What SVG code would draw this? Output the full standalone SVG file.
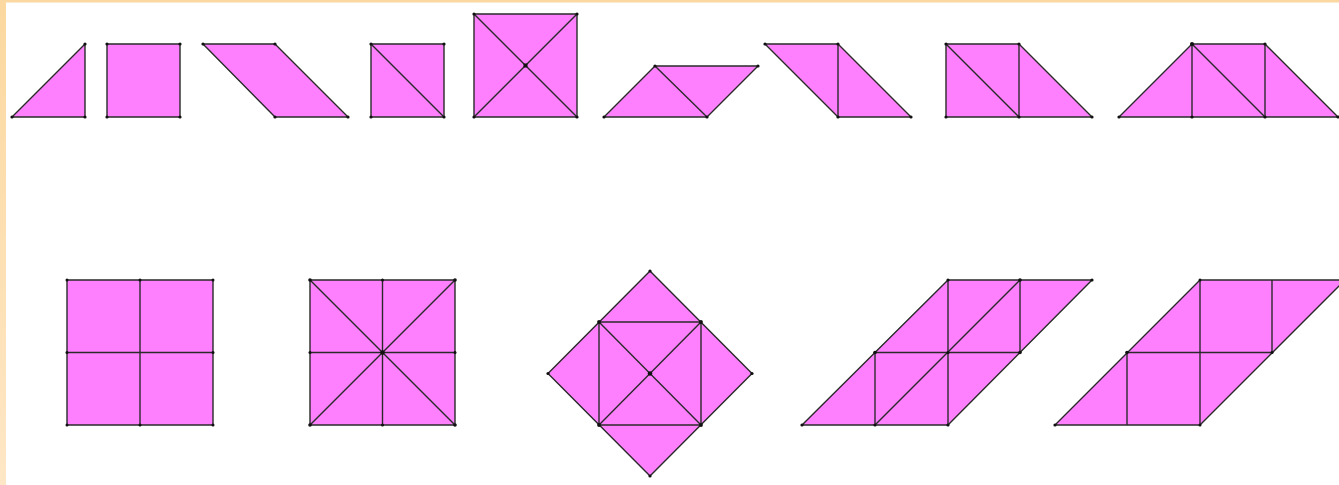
<svg xmlns="http://www.w3.org/2000/svg" width="1339" height="485" viewBox="0 0 1339 485">
<defs>
<linearGradient id="bg" x1="0" y1="0" x2="0" y2="1">
<stop offset="0" stop-color="#FBD89F"/>
<stop offset="1" stop-color="#FEE7C6"/>
</linearGradient>
<style>
.f{fill:#FF80FF;stroke:#2a2a2a;stroke-width:1.4;stroke-linejoin:round}
.l{stroke:#2a2a2a;stroke-width:1.4;fill:none}
.d{fill:#111}
</style>
</defs>
<rect x="0" y="0" width="1339" height="485" fill="#fff"/>
<rect x="0" y="0" width="1339" height="2.5" fill="#FBD89F"/>
<rect x="0" y="0" width="6" height="485" fill="url(#bg)"/>

<g id="s1">
<polygon class="f" points="12,117 85,44 85,117"/>
<g class="d"><circle cx="12" cy="117" r="1.6"/><circle cx="85" cy="44" r="1.6"/><circle cx="85" cy="117" r="1.6"/></g>
</g>
<g id="s2">
<polygon class="f" points="107,44 180,44 180,117 107,117"/>
<g class="d"><circle cx="107" cy="44" r="1.6"/><circle cx="180" cy="44" r="1.6"/><circle cx="180" cy="117" r="1.6"/><circle cx="107" cy="117" r="1.6"/></g>
</g>
<g id="s3">
<polygon class="f" points="203,44 275,44 348,117 275,117"/>
<g class="d"><circle cx="203" cy="44" r="1.6"/><circle cx="275" cy="44" r="1.6"/><circle cx="348" cy="117" r="1.6"/><circle cx="275" cy="117" r="1.6"/></g>
</g>
<g id="s4">
<polygon class="f" points="371,44 444,44 444,117 371,117"/>
<line class="l" x1="371" y1="44" x2="444" y2="117"/>
<g class="d"><circle cx="371" cy="44" r="1.6"/><circle cx="444" cy="44" r="1.6"/><circle cx="444" cy="117" r="1.6"/><circle cx="371" cy="117" r="1.6"/></g>
</g>
<g id="s5">
<polygon class="f" points="474,14 577,14 577,117 474,117"/>
<line class="l" x1="474" y1="14" x2="577" y2="117"/>
<line class="l" x1="577" y1="14" x2="474" y2="117"/>
<g class="d"><circle cx="474" cy="14" r="1.6"/><circle cx="577" cy="14" r="1.6"/><circle cx="577" cy="117" r="1.6"/><circle cx="474" cy="117" r="1.6"/><rect x="523.5" y="63.5" width="4" height="4"/></g>
</g>
<g id="s6">
<polygon class="f" points="604,117 655,66 758,66 707,117"/>
<line class="l" x1="655" y1="66" x2="707" y2="117"/>
<g class="d"><circle cx="604" cy="117" r="1.6"/><circle cx="655" cy="66" r="1.6"/><circle cx="758" cy="66" r="1.6"/><circle cx="707" cy="117" r="1.6"/></g>
</g>
<g id="s7">
<polygon class="f" points="765,44 838,44 911,117 838,117"/>
<line class="l" x1="838" y1="44" x2="838" y2="117"/>
<g class="d"><circle cx="765" cy="44" r="1.6"/><circle cx="838" cy="44" r="1.6"/><circle cx="911" cy="117" r="1.6"/><circle cx="838" cy="117" r="1.6"/></g>
</g>
<g id="s8">
<polygon class="f" points="946,44 1019,44 1092,117 946,117"/>
<line class="l" x1="946" y1="44" x2="1019" y2="117"/>
<line class="l" x1="1019" y1="44" x2="1019" y2="117"/>
<g class="d"><circle cx="946" cy="44" r="1.6"/><circle cx="1019" cy="44" r="1.6"/><circle cx="1092" cy="117" r="1.6"/><circle cx="1019" cy="117" r="1.6"/><circle cx="946" cy="117" r="1.6"/></g>
</g>
<g id="s9">
<polygon class="f" points="1119,117 1192,44 1265,44 1338,117"/>
<line class="l" x1="1192" y1="44" x2="1192" y2="117"/>
<line class="l" x1="1265" y1="44" x2="1265" y2="117"/>
<line class="l" x1="1192" y1="44" x2="1265" y2="117"/>
<g class="d"><circle cx="1119" cy="117" r="1.6"/><circle cx="1192" cy="44" r="2"/><circle cx="1265" cy="44" r="1.6"/><circle cx="1338" cy="117" r="1.6"/><circle cx="1192" cy="117" r="1.6"/><circle cx="1265" cy="117" r="1.6"/></g>
</g>

<g id="s10">
<polygon class="f" points="67,280 213,280 213,425 67,425"/>
<line class="l" x1="140" y1="280" x2="140" y2="425"/>
<line class="l" x1="67" y1="352.5" x2="213" y2="352.5"/>
<g class="d"><circle cx="67" cy="280" r="1.5"/><circle cx="140" cy="280" r="1.5"/><circle cx="213" cy="280" r="1.5"/><circle cx="67" cy="352.5" r="1.5"/><circle cx="213" cy="352.5" r="1.5"/><circle cx="67" cy="425" r="1.5"/><circle cx="140" cy="425" r="1.5"/><circle cx="213" cy="425" r="1.5"/></g>
</g>
<g id="s11">
<polygon class="f" points="310,280 455,280 455,425 310,425"/>
<line class="l" x1="382.5" y1="280" x2="382.5" y2="425"/>
<line class="l" x1="310" y1="352.5" x2="455" y2="352.5"/>
<line class="l" x1="310" y1="280" x2="455" y2="425"/>
<line class="l" x1="455" y1="280" x2="310" y2="425"/>
<g class="d"><circle cx="310" cy="280" r="1.8"/><circle cx="382.5" cy="280" r="1.5"/><circle cx="455" cy="280" r="1.8"/><circle cx="310" cy="352.5" r="1.5"/><circle cx="455" cy="352.5" r="1.5"/><circle cx="310" cy="425" r="1.8"/><circle cx="382.5" cy="425" r="1.5"/><circle cx="455" cy="425" r="1.8"/><circle cx="382.5" cy="352.5" r="2.3"/></g>
</g>
<g id="s12">
<polygon class="f" points="650,271 752,373.5 650,476 548,373.5"/>
<polygon class="l" points="599,322 701,322 701,425 599,425"/>
<line class="l" x1="599" y1="322" x2="701" y2="425"/>
<line class="l" x1="701" y1="322" x2="599" y2="425"/>
<g class="d"><circle cx="650" cy="271" r="1.6"/><circle cx="752" cy="373.5" r="1.6"/><circle cx="650" cy="476" r="1.6"/><circle cx="548" cy="373.5" r="1.6"/><circle cx="599" cy="322" r="1.9"/><circle cx="701" cy="322" r="1.9"/><circle cx="701" cy="425" r="1.9"/><circle cx="599" cy="425" r="1.9"/><circle cx="650" cy="373.5" r="2.3"/></g>
</g>
<g id="s13">
<polygon class="f" points="802,425 948,280 1092,280 948,425"/>
<line class="l" x1="875" y1="352.5" x2="1020" y2="352.5"/>
<line class="l" x1="875" y1="352.5" x2="875" y2="425"/>
<line class="l" x1="948" y1="280" x2="948" y2="425"/>
<line class="l" x1="1020" y1="280" x2="1020" y2="352.5"/>
<line class="l" x1="875" y1="425" x2="1020" y2="280"/>
<g class="d"><circle cx="802" cy="425" r="1.6"/><circle cx="875" cy="425" r="1.6"/><circle cx="948" cy="425" r="1.6"/><circle cx="875" cy="352.5" r="1.8"/><circle cx="948" cy="352.5" r="1.6"/><circle cx="1020" cy="352.5" r="1.8"/><circle cx="948" cy="280" r="1.6"/><circle cx="1020" cy="280" r="1.8"/><circle cx="1092" cy="280" r="1.6"/></g>
</g>
<g id="s14">
<polygon class="f" points="1055,425 1200,280 1345,280 1200,425"/>
<line class="l" x1="1127" y1="352.5" x2="1272" y2="352.5"/>
<line class="l" x1="1127" y1="352.5" x2="1127" y2="425"/>
<line class="l" x1="1200" y1="280" x2="1200" y2="425"/>
<line class="l" x1="1272" y1="280" x2="1272" y2="352.5"/>
<g class="d"><circle cx="1055" cy="425" r="1.6"/><circle cx="1200" cy="425" r="1.5"/><circle cx="1127" cy="352.5" r="1.8"/><circle cx="1272" cy="352.5" r="1.6"/><circle cx="1200" cy="280" r="1.5"/></g>
</g>
</svg>
